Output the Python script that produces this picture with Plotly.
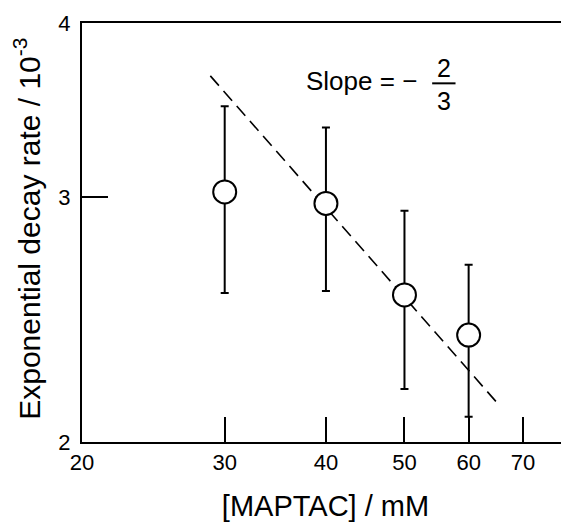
import plotly.graph_objects as go
import math

# Data (log-log axes)
maptac_mM = [30, 40, 50, 60]
decay_rate = [3.025, 2.968, 2.551, 2.387]
decay_upper = [3.485, 3.365, 2.932, 2.681]
decay_lower = [2.559, 2.568, 2.183, 2.085]

# Dashed guide line (slope = -2/3 on log-log axes)
fit_x = [28.8, 65.1]
fit_y = [3.665, 2.133]

x_tick_vals = [20, 30, 40, 50, 60, 70]
y_tick_vals = [2, 3, 4]

err_plus = [u - y for u, y in zip(decay_upper, decay_rate)]
err_minus = [y - l for y, l in zip(decay_rate, decay_lower)]

FONT = "Liberation Sans, Arial, Helvetica, sans-serif"

fig = go.Figure()

fig.add_trace(go.Scatter(
    x=fit_x, y=fit_y, mode="lines",
    line=dict(color="black", width=1.6, dash="13px,7px"),
    showlegend=False, hoverinfo="skip",
))

fig.add_trace(go.Scatter(
    x=maptac_mM, y=decay_rate, mode="markers",
    marker=dict(symbol="circle", size=23, color="white",
                line=dict(color="black", width=2)),
    error_y=dict(type="data", symmetric=False, array=err_plus,
                 arrayminus=err_minus, color="black", thickness=2, width=4),
    showlegend=False,
))

# Slope annotation with a stacked fraction
fig.add_annotation(x=0.692, y=0.862, xref="paper", yref="paper",
                   text="Slope = \u2212", showarrow=False,
                   xanchor="right", yanchor="middle",
                   font=dict(family=FONT, size=26, color="black"))
fig.add_annotation(x=0.743, y=0.893, xref="paper", yref="paper",
                   text="2", showarrow=False, xanchor="center", yanchor="middle",
                   font=dict(family=FONT, size=25, color="black"))
fig.add_annotation(x=0.743, y=0.814, xref="paper", yref="paper",
                   text="3", showarrow=False, xanchor="center", yanchor="middle",
                   font=dict(family=FONT, size=25, color="black"))
fig.add_shape(type="line", xref="paper", yref="paper",
              x0=0.719, x1=0.767, y0=0.856, y1=0.856,
              line=dict(color="black", width=2))

# Y-axis title as a rotated annotation for exact placement
fig.add_annotation(x=-0.112, y=0.51, xref="paper", yref="paper",
                   text="Exponential decay rate / 10<sup>-3</sup>",
                   textangle=-90, showarrow=False,
                   xanchor="center", yanchor="middle", borderpad=0,
                   font=dict(family=FONT, size=30, color="black"))

fig.update_xaxes(
    type="log", range=[math.log10(20), math.log10(79.8)],
    tickvals=x_tick_vals, ticktext=[str(v) for v in x_tick_vals],
    ticks="inside", ticklen=25, tickwidth=2, tickcolor="black",
    showline=True, linewidth=2, linecolor="black", mirror=True,
    showgrid=False, zeroline=False,
    tickfont=dict(family=FONT, size=22, color="black"),
    ticklabelstandoff=0,
    title=dict(text="[MAPTAC] / mM", standoff=24,
               font=dict(family=FONT, size=29, color="black")),
)
fig.update_yaxes(
    type="log", range=[math.log10(2), math.log10(4)],
    tickvals=y_tick_vals, ticktext=[str(v) for v in y_tick_vals],
    ticks="inside", ticklen=26, tickwidth=2, tickcolor="black",
    showline=True, linewidth=2, linecolor="black", mirror=False,
    showgrid=False, zeroline=False,
    tickfont=dict(family=FONT, size=22, color="black"),
    ticklabelstandoff=5,
)

fig.update_layout(
    width=561, height=514,
    margin=dict(l=74, r=0, t=15, b=80),
    paper_bgcolor="white", plot_bgcolor="white",
    showlegend=False,
)

fig.write_html("out.html")
